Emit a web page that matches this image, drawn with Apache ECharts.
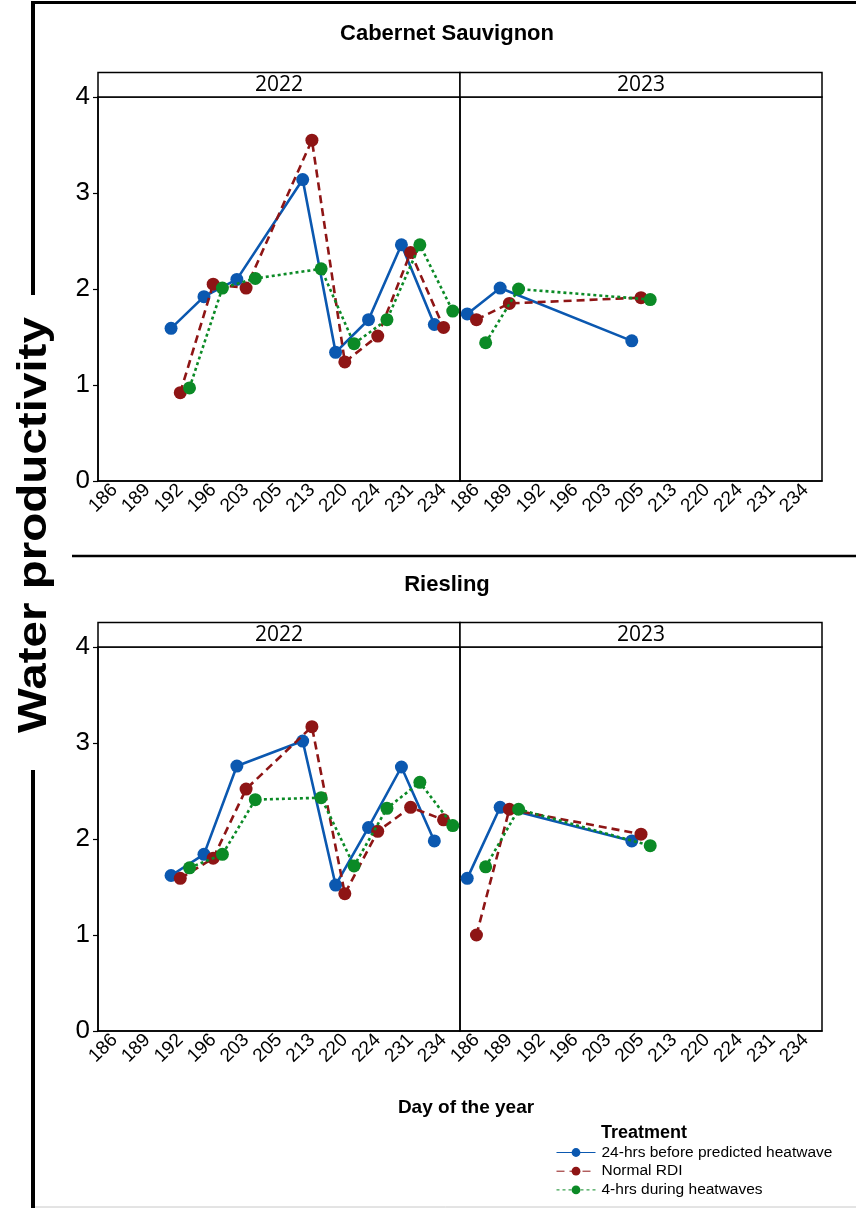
<!DOCTYPE html>
<html><head><meta charset="utf-8">
<script src="https://cdn.jsdelivr.net/npm/echarts@6/dist/echarts.min.js"></script>
<style>html,body{margin:0;padding:0;background:#fff}#c{width:856px;height:1208px}</style>
</head><body><div id="c"></div><script>
// ---- data ----
const categories = ['186','189','192','196','203','205','213','220','224','231','234'];
const treatments = ['24-hrs before predicted heatwave', 'Normal RDI', '4-hrs during heatwaves'];
const cultivars = ['Cabernet Sauvignon', 'Riesling'];
const years = ['2022', '2023'];
const days2022 = ['192','196','203','213','220','224','231','234'];
const days2023 = ['186','189','205'];

const cab2022_24h = [1.59, 1.92, 2.10, 3.14, 1.34, 1.68, 2.46, 1.63];
const cab2022_rdi = [0.92, 2.05, 2.01, 3.55, 1.24, 1.51, 2.38, 1.60];
const cab2022_4h  = [0.97, 2.01, 2.11, 2.21, 1.43, 1.68, 2.46, 1.77];
const cab2023_24h = [1.74, 2.01, 1.46];
const cab2023_rdi = [1.68, 1.85, 1.91];
const cab2023_4h  = [1.44, 2.00, 1.89];

const ries2022_24h = [1.62, 1.84, 2.76, 3.02, 1.52, 2.12, 2.75, 1.98];
const ries2022_rdi = [1.59, 1.80, 2.52, 3.17, 1.43, 2.08, 2.33, 2.20];
const ries2022_4h  = [1.70, 1.84, 2.41, 2.43, 1.72, 2.32, 2.59, 2.14];
const ries2023_24h = [1.59, 2.33, 1.98];
const ries2023_rdi = [1.00, 2.31, 2.05];
const ries2023_4h  = [1.71, 2.31, 1.93];

// ---- styling ----
const colors = ['#0B58B0', '#8E1515', '#0B8A26'];
const dashes = ['solid', [8, 5], [3, 3]];
const dodge = [-0.28, 0, 0.28];
const FONT = '"Liberation Sans", Arial, sans-serif';

const panels = [
  {grid: 0, days: days2022, vals: [cab2022_24h, cab2022_rdi, cab2022_4h]},
  {grid: 1, days: days2023, vals: [cab2023_24h, cab2023_rdi, cab2023_4h]},
  {grid: 2, days: days2022, vals: [ries2022_24h, ries2022_rdi, ries2022_4h]},
  {grid: 3, days: days2023, vals: [ries2023_24h, ries2023_rdi, ries2023_4h]}
];

const gridPos = [
  {left: 98, top: 97, width: 362, height: 384},
  {left: 460, top: 97, width: 362, height: 384},
  {left: 98, top: 647, width: 362, height: 384},
  {left: 460, top: 647, width: 362, height: 384}
];

const grid = gridPos.map(g => Object.assign({show: true, borderColor: '#000', borderWidth: 1.5, backgroundColor: 'transparent'}, g));
const xAxis = [];
const yAxis = [];
gridPos.forEach((g, i) => {
  xAxis.push({
    type: 'category', gridIndex: i, data: categories, boundaryGap: true,
    axisLine: {onZero: false, lineStyle: {color: '#000', width: 1.5}},
    axisTick: {alignWithLabel: true, length: 5, lineStyle: {color: '#000', width: 1.2}},
    axisLabel: {rotate: 45, fontSize: 19, color: '#000', margin: 6, interval: 0, fontFamily: FONT},
    splitLine: {show: false}
  });
  xAxis.push({
    type: 'value', gridIndex: i, min: -0.5, max: categories.length - 0.5, show: false
  });
  yAxis.push({
    type: 'value', gridIndex: i, min: 0, max: 4, interval: 1,
    show: i % 2 === 0,
    axisLine: {show: true, onZero: false, lineStyle: {color: '#000', width: 1.5}},
    axisTick: {show: true, length: 5, lineStyle: {color: '#000', width: 1.2}},
    axisLabel: {fontSize: 26, color: '#000', margin: 8, fontFamily: FONT},
    splitLine: {show: false}
  });
});

const series = [];
panels.forEach(p => {
  treatments.forEach((t, k) => {
    series.push({
      name: t, type: 'line',
      xAxisIndex: p.grid * 2 + 1, yAxisIndex: p.grid,
      data: p.days.map((d, j) => [categories.indexOf(d) + dodge[k], p.vals[k][j]]),
      symbol: 'circle', symbolSize: 13,
      lineStyle: {color: colors[k], width: 2.6, type: dashes[k]},
      itemStyle: {color: colors[k]},
      z: 2 + k, animation: false
    });
  });
});

const graphic = [];
// frame lines
graphic.push({type: 'line', shape: {x1: 33, y1: 1, x2: 33, y2: 295}, style: {stroke: '#000', lineWidth: 4}});
graphic.push({type: 'line', shape: {x1: 33, y1: 770, x2: 33, y2: 1208}, style: {stroke: '#000', lineWidth: 4}});
graphic.push({type: 'line', shape: {x1: 31, y1: 2.5, x2: 856, y2: 2.5}, style: {stroke: '#000', lineWidth: 3}});
graphic.push({type: 'line', shape: {x1: 72, y1: 556, x2: 856, y2: 556}, style: {stroke: '#000', lineWidth: 2.5}});
graphic.push({type: 'line', shape: {x1: 35, y1: 1207, x2: 856, y2: 1207}, style: {stroke: '#c8c8c8', lineWidth: 1}});
// titles
graphic.push({type: 'text', x: 447, y: 34, style: {text: cultivars[0], font: 'bold 22px ' + FONT, fill: '#000', align: 'center', verticalAlign: 'middle'}});
graphic.push({type: 'text', x: 447, y: 585, style: {text: cultivars[1], font: 'bold 22px ' + FONT, fill: '#000', align: 'center', verticalAlign: 'middle'}});
graphic.push({type: 'text', x: 466, y: 1108, style: {text: 'Day of the year', font: 'bold 19px ' + FONT, fill: '#000', align: 'center', verticalAlign: 'middle'}});
graphic.push({type: 'text', x: 35, y: 525, rotation: Math.PI / 2, scaleX: 1.16, scaleY: 1.0, style: {text: 'Water productivity', font: 'bold 41px ' + FONT, fill: '#000', align: 'center', verticalAlign: 'middle'}});
graphic.push({type: 'text', x: 601, y: 1133, style: {text: 'Treatment', font: 'bold 18px ' + FONT, fill: '#000', align: 'left', verticalAlign: 'middle'}});
// strips
gridPos.forEach((g, i) => {
  graphic.push({type: 'rect', shape: {x: g.left, y: g.top - 24.5, width: g.width, height: 24.5}, style: {fill: '#fff', stroke: '#000', lineWidth: 1.5}});
  graphic.push({type: 'text', x: g.left + g.width / 2, y: g.top - 12, style: {text: years[i % 2], font: '21px "Open Sans", sans-serif', fill: '#000', align: 'center', verticalAlign: 'middle'}});
});

const chart = echarts.init(document.getElementById('c'), null, {renderer: 'canvas'});
chart.setOption({
  animation: false,
  backgroundColor: '#fff',
  textStyle: {fontFamily: FONT},
  grid, xAxis, yAxis, series, graphic,
  legend: {
    data: treatments, orient: 'vertical', left: 551, top: 1139,
    itemWidth: 39, itemHeight: 11, itemGap: 1.7,
    lineStyle: {width: 1},
    textStyle: {fontSize: 15.5, color: '#000', fontFamily: FONT, lineHeight: 17, padding: [0, 0, 0, 1]},
    selectedMode: false
  }
});
</script></body></html>
